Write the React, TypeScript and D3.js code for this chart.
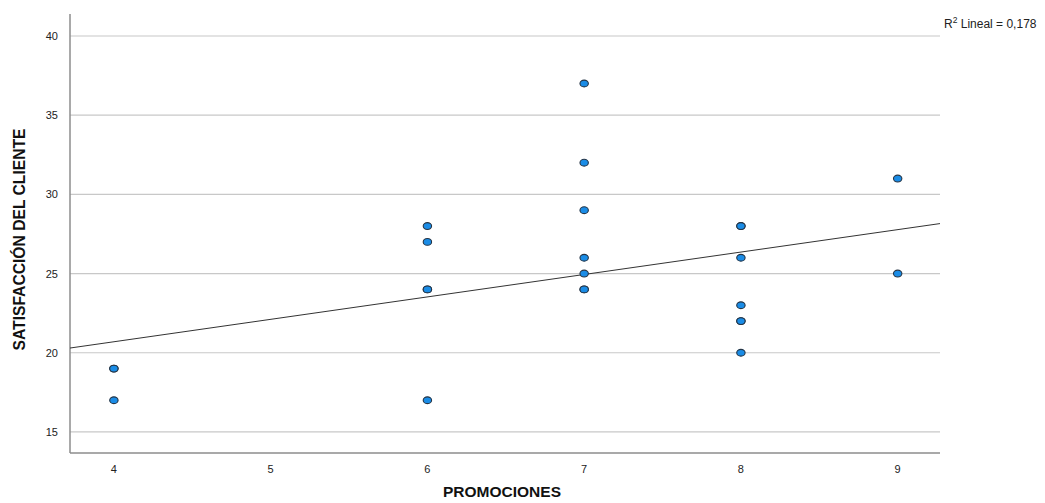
import * as d3 from 'd3'
import { useEffect, useRef } from 'react'

// PROMOCIONES (x) vs SATISFACCIÓN DEL CLIENTE (y), duplicates kept
const promoValues = [4, 4, 4, 6, 6, 6, 6, 6, 7, 7, 7, 7, 7, 7, 7, 8, 8, 8, 8, 8, 8, 8, 9, 9]
const satisValues = [19, 19, 17, 28, 27, 24, 24, 17, 37, 32, 29, 26, 25, 24, 24, 28, 28, 26, 23, 22, 22, 20, 31, 25]
const xTicks = [4, 5, 6, 7, 8, 9]
const yTicks = [15, 20, 25, 30, 35, 40]
// linear fit
const fitCoef = [15.03, 1.416] // intercept, slope
const r2Label = '0,178'

const App = () => {
    const svgRef = useRef<SVGSVGElement>(null)

    useEffect(() => {
        const w = 1045
        const h = 503
        const left = 70, right = 940, top = 14, bottom = 453

        const svg = d3.select(svgRef.current).attr('width', w).attr('height', h)
        svg.selectAll('*').remove()

        const x = d3.scaleLinear().domain([3.72, 9.27]).range([left, right])
        const y = d3.scaleLinear().domain([13.67, 41.39]).range([bottom, top])

        // grid
        svg.append('g').selectAll('line').data(yTicks).join('line')
            .attr('x1', left).attr('x2', right)
            .attr('y1', d => y(d)).attr('y2', d => y(d))
            .attr('stroke', '#c8c8c8').attr('stroke-width', 1.2)

        // axes lines
        svg.append('line').attr('x1', left).attr('x2', left).attr('y1', top).attr('y2', bottom)
            .attr('stroke', '#8c8c8c').attr('stroke-width', 1.5)
        svg.append('line').attr('x1', left).attr('x2', right).attr('y1', bottom).attr('y2', bottom)
            .attr('stroke', '#8c8c8c').attr('stroke-width', 1.5)

        // tick labels
        svg.append('g').selectAll('text').data(yTicks).join('text')
            .attr('x', left - 12).attr('y', d => y(d) + 4)
            .attr('text-anchor', 'end').attr('font-family', 'Liberation Sans, Arial, sans-serif')
            .attr('font-size', 11).attr('fill', '#222').text(d => d)
        svg.append('g').selectAll('text').data(xTicks).join('text')
            .attr('x', d => x(d)).attr('y', bottom + 20)
            .attr('text-anchor', 'middle').attr('font-family', 'Liberation Sans, Arial, sans-serif')
            .attr('font-size', 11).attr('fill', '#222').text(d => d)

        // titles
        svg.append('text').attr('transform', `translate(25,${(top + bottom) / 2 + 6}) rotate(-90)`)
            .attr('text-anchor', 'middle').attr('font-family', 'Liberation Sans, Arial, sans-serif')
            .attr('font-weight', 'bold').attr('font-size', 16).attr('fill', '#111')
            .attr('textLength', 222).attr('lengthAdjust', 'spacingAndGlyphs')
            .text('SATISFACCIÓN DEL CLIENTE')
        svg.append('text').attr('x', (left + right) / 2 - 3).attr('y', 497)
            .attr('text-anchor', 'middle').attr('font-family', 'Liberation Sans, Arial, sans-serif')
            .attr('font-weight', 'bold').attr('font-size', 15.5).attr('fill', '#111')
            .text('PROMOCIONES')

        // fit line
        const [b0, b1] = fitCoef
        const [x0, x1] = x.domain()
        svg.append('line')
            .attr('x1', x(x0)).attr('y1', y(b0 + b1 * x0))
            .attr('x2', x(x1)).attr('y2', y(b0 + b1 * x1))
            .attr('stroke', '#333').attr('stroke-width', 1)

        // points
        svg.append('g').selectAll('ellipse').data(promoValues).join('ellipse')
            .attr('cx', d => x(d)).attr('cy', (d, i) => y(satisValues[i]))
            .attr('rx', 4.2).attr('ry', 3.4)
            .attr('fill', '#1a8ce6').attr('stroke', '#263444').attr('stroke-width', 1.1)

        // R2 label
        const lab = svg.append('text').attr('x', 944).attr('y', 28)
            .attr('font-family', 'Liberation Sans, Arial, sans-serif').attr('font-size', 12).attr('fill', '#222')
        lab.append('tspan').text('R')
        lab.append('tspan').attr('dy', -5).attr('font-size', 8.5).text('2')
        lab.append('tspan').attr('dy', 5).text(` Lineal = ${r2Label}`)
    }, [])

    return (
        <div>
            <svg ref={svgRef} style={{ position: 'absolute', left: 0, top: 0 }}></svg>
        </div>
    )
}

export default App
